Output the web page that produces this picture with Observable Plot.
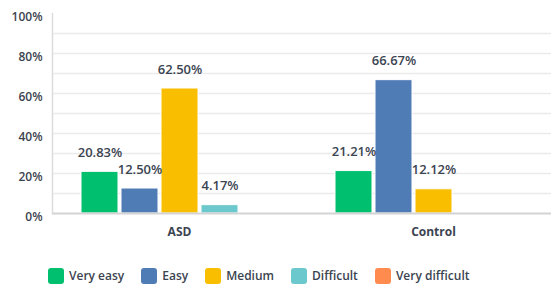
<!DOCTYPE html>
<html>
<head>
<meta charset="utf-8">
<script src="https://cdn.jsdelivr.net/npm/d3@7"></script>
<script src="https://cdn.jsdelivr.net/npm/@observablehq/plot@0.6"></script>
<style>
  html, body { margin: 0; padding: 0; background: #fff; overflow: hidden; }
  body { width: 551px; height: 286px; font-family: "Open Sans", sans-serif; }
  .legend { display: flex; align-items: center; margin-left: 48px; margin-top: 24px; font-size: 12px; font-weight: 600; color: #3b4451; }
  .item { display: flex; align-items: center; margin-right: 17px; }
  .sw { width: 16px; height: 16px; border-radius: 3px; margin-right: 5px; }
</style>
</head>
<body>
<div id="chart"></div>
<script>
const groups = ["ASD", "Control"];
const series = ["Very easy", "Easy", "Medium", "Difficult", "Very difficult"];
const colors = ["#00bf6f", "#507cb6", "#f9be00", "#6bc8cd", "#ff8b4f"];
const asdValues = [20.83, 12.50, 62.50, 4.17, null];
const controlValues = [21.21, 66.67, 12.12, null, null];
const yTicks = [0, 20, 40, 60, 80, 100];
const gridTicks = [10, 20, 30, 40, 50, 60, 70, 80, 90];

const table = [];
[asdValues, controlValues].forEach((vals, gi) => {
  vals.forEach((v, si) => {
    if (v != null) table.push({group: groups[gi], series: series[si], value: v});
  });
});

const textColor = "#3b4451";
const plot = Plot.plot({
  width: 551,
  height: 243,
  marginLeft: 52,
  marginRight: 0,
  marginTop: 13,
  marginBottom: 30,
  style: {fontFamily: "'Open Sans', sans-serif", background: "#fff"},
  fx: {domain: groups, padding: 0, range: [52, 560], label: null},
  x: {domain: series, paddingInner: 0.08, paddingOuter: 0.66, axis: null},
  y: {domain: [0, 100], label: null},
  color: {domain: series, range: colors},
  marks: [
    Plot.ruleY(gridTicks, {stroke: "#ebebeb", strokeWidth: 1.5}),
    Plot.frame({anchor: "left", facetAnchor: "left", stroke: "#dcdcdc", strokeWidth: 1.5}),
    Plot.barY(table, {fx: "group", x: "series", y: "value", fill: "series", stroke: "#fff", strokeWidth: 1}),
    Plot.ruleY([0], {stroke: "#d3d3d3", strokeWidth: 2}),
    Plot.text(table, {fx: "group", x: "series", y: "value", text: d => d.value.toFixed(2) + "%", dy: -19, fontSize: 13, fontWeight: 600, fill: textColor}),
    Plot.axisY(yTicks, {tickSize: 0, tickPadding: 10, dy: 4, tickFormat: d => d + "%", fontSize: 12, fontWeight: 600, fill: textColor, label: null}),
    Plot.axisFx({anchor: "bottom", tickSize: 0, tickPadding: 14, fontSize: 12, fontWeight: 700, fill: textColor, label: null})
  ]
});
document.getElementById("chart").appendChild(plot);

const legend = d3.select("body").append("div").attr("class", "legend");
series.forEach((s, i) => {
  const it = legend.append("div").attr("class", "item");
  it.append("div").attr("class", "sw").style("background", colors[i]);
  it.append("span").text(s);
});
</script>
</body>
</html>
